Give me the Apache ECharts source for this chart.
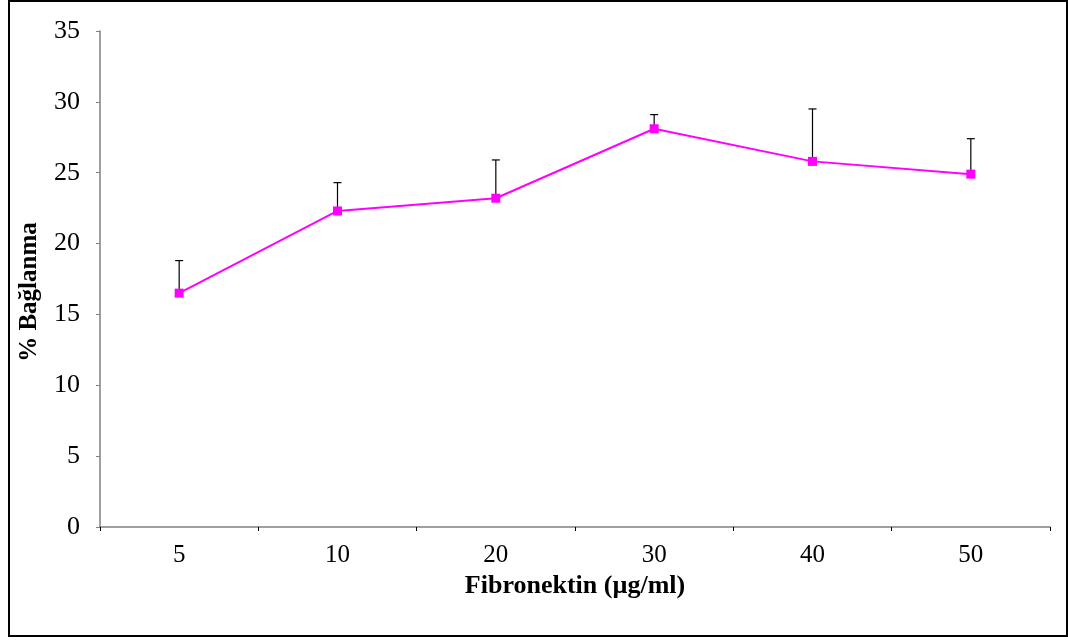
<!DOCTYPE html>
<html><head><meta charset="utf-8">
<script src="https://cdn.jsdelivr.net/npm/echarts@6/dist/echarts.min.js"></script>
<style>html,body{margin:0;padding:0;background:#fff}#c{width:1068px;height:641px}
#frame{position:absolute;left:8px;top:0px;width:1056px;height:633px;border:2px solid #000;box-sizing:content-box;pointer-events:none}</style>
</head><body><div id="c"></div><div id="frame"></div>
<script>
const categories = ['5','10','20','30','40','50'];
const meanValues = [16.5, 22.3, 23.2, 28.1, 25.8, 24.9];
const errorTops = [18.8, 24.3, 25.9, 29.1, 29.5, 27.4];
const yTicks = [0,5,10,15,20,25,30,35];

const chart = echarts.init(document.getElementById('c'));
const font = '"Liberation Serif", "Times New Roman", serif';
chart.setOption({
  animation: false,
  grid: {left: 100, right: 18, top: 31, bottom: 114},
  xAxis: {
    type: 'category', data: categories, boundaryGap: true,
    name: 'Fibronektin (µg/ml)', nameLocation: 'middle', nameGap: 38,
    nameTextStyle: {fontFamily: font, fontSize: 26, fontWeight: 'bold', color: '#000'},
    axisLine: {lineStyle: {color: '#808080', width: 1.5}},
    axisTick: {show: true, length: 4, lineStyle: {color: '#000'}},
    axisLabel: {fontFamily: font, fontSize: 25, color: '#000', margin: 16}
  },
  yAxis: {
    type: 'value', min: 0, max: 35, interval: 5,
    name: '% Bağlanma', nameLocation: 'middle', nameGap: 58, nameRotate: 90,
    nameTextStyle: {fontFamily: font, fontSize: 25, fontWeight: 'bold', color: '#000', padding: [0, 26, 0, 0]},
    splitLine: {show: false},
    axisLine: {show: true, lineStyle: {color: '#808080', width: 1.5}},
    axisTick: {show: true, length: 4, lineStyle: {color: '#808080'}},
    axisLabel: {fontFamily: font, fontSize: 26, color: '#000', margin: 20,
      formatter: v => yTicks.includes(v) ? String(v) : ''}
  },
  series: [
    {
      type: 'custom', z: 1,
      data: categories.map((c, i) => [i, meanValues[i], errorTops[i]]),
      renderItem: function(params, api) {
        const p0 = api.coord([api.value(0), api.value(1)]);
        const p1 = api.coord([api.value(0), api.value(2)]);
        const hw = 4;
        return {type: 'group', children: [
          {type: 'line', shape: {x1: p0[0], y1: p0[1], x2: p1[0], y2: p1[1]}, style: {stroke: '#000', lineWidth: 1.2}},
          {type: 'line', shape: {x1: p1[0]-hw, y1: p1[1], x2: p1[0]+hw, y2: p1[1]}, style: {stroke: '#000', lineWidth: 1.2}}
        ]};
      }
    },
    {
      type: 'line', z: 3, data: meanValues,
      symbol: 'rect', symbolSize: 9,
      lineStyle: {color: '#FF00FF', width: 2},
      itemStyle: {color: '#FF00FF'}
    }
  ]
});
</script></body></html>
